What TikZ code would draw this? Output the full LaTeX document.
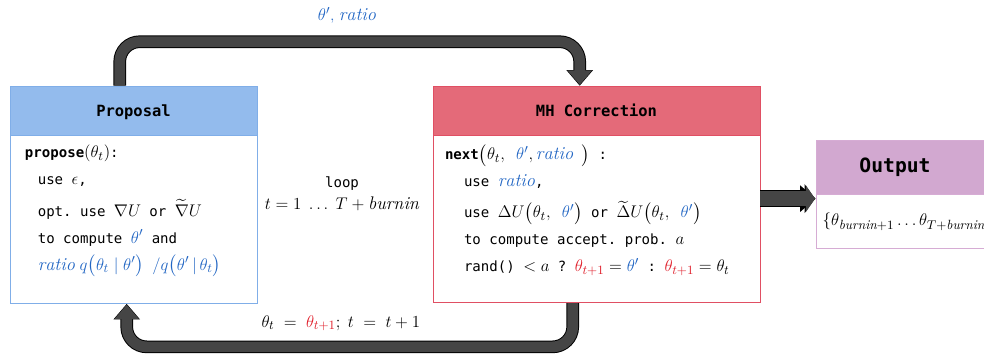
\documentclass[tikz,border=0pt]{standalone}
\usepackage{amsmath}
\usepackage{amssymb}
\usepackage{fontspec}
\setmonofont{DejaVu Sans Mono}
\usepackage{tikz}
\usepackage{xcolor}
\usetikzlibrary{arrows.meta}
\usetikzlibrary{backgrounds}
\usetikzlibrary{positioning}

% math a bit larger than the mono text around it
\DeclareMathSizes{10}{13}{9.5}{7.5}
\DeclareMathSizes{11}{14}{10}{8}

\definecolor{propfill}{HTML}{93BBED}
\definecolor{propline}{HTML}{80AEE8}
\definecolor{mhfill}{HTML}{E46A79}
\definecolor{mhline}{HTML}{E04F63}
\definecolor{outfill}{HTML}{D2A8D0}
\definecolor{outline}{HTML}{D6ACD4}
\definecolor{txtblue}{HTML}{2266C4}
\definecolor{txtred}{HTML}{E0202C}
\definecolor{arrowgray}{HTML}{454545}

\newcommand{\bl}[1]{\textcolor{txtblue}{#1}}
\newcommand{\rd}[1]{\textcolor{txtred}{#1}}

\tikzset{head/.style={draw, minimum height=1.225cm, inner sep=0pt, text depth=0pt,
  font=\ttfamily\bfseries\fontsize{11}{13}\selectfont},
 body/.style={draw, fill=white, inner sep=0pt},
 code/.style={anchor=north west, align=left, inner sep=0pt,
  font=\ttfamily\fontsize{10}{19.2}\selectfont},
 bigarrow/.style={draw=arrowgray, line width=7.6pt, rounded corners=5mm,
  shorten >=0.6pt, -{Triangle[length=3.6mm,width=5.9mm]},
  preaction={draw=black, line width=9pt, shorten >=0pt,
  -{Triangle[length=3.9mm,width=6.4mm]}}},
 }

\begin{document}
\begin{tikzpicture}
    \useasboundingbox (0,0) rectangle (24.6,8.85);

    % the two steps of the sampler
    \node[head, fill=propfill, draw=propline, minimum width=6.175cm] (propHead) at (3.3375,6.0875) {Proposal};
    \node[body, draw=propline, minimum width=6.175cm, minimum height=4.2cm, below=0pt of propHead] (propBody) {};
    \node[head, fill=mhfill, draw=mhline, minimum width=8.175cm] (mhHead) at (14.9125,6.0875) {MH Correction};
    \node[body, draw=mhline, minimum width=8.175cm, minimum height=4.175cm, below=0pt of mhHead] (mhBody) {};

    % output, runs off the right edge
    \node[head, fill=outfill, draw=outline, minimum width=5cm, minimum height=1.35cm] (outHead) at (22.9,4.675) {};
    \node[body, draw=outline, minimum width=5cm, minimum height=1.35cm, below=0pt of outHead] (outBody) {};
    \node[font=\ttfamily\bfseries\fontsize{14}{16}\selectfont] (outTitle) at (22.375,4.675) {Output};
    \node[anchor=west, font=\fontsize{10}{13}\selectfont] (outText) at ([xshift=0.5mm]outBody.west)
        {$\{\theta_{\mathit{burnin}+1} \ldots \theta_{T+\mathit{burnin}}\}$};

    \node[code] (propText) at ([xshift=3.75mm,yshift=-2.4mm]propBody.north west) {%
        \textbf{propose}$(\theta_t)$:\\
        \hspace*{3.2mm}use $\epsilon$,\\[3pt]
        \hspace*{3.2mm}opt. use $\nabla U$ or $\widetilde{\nabla} U$\\
        \hspace*{3.2mm}to compute $\bl{\theta'}$ and\\
        \hspace*{3.2mm}\bl{$\mathit{ratio}\; q\bigl(\theta_t \mid \theta'\bigr)\ /q\bigl(\theta'\,|\, \theta_t\bigr)$}};

    \node[code] (mhText) at ([xshift=3mm,yshift=-2.2mm]mhBody.north west) {%
        \textbf{next}$\bigl(\theta_t,\ \bl{\theta'}, \bl{\mathit{ratio}}\ \bigr)$ :\\
        \hspace*{4.75mm}use $\bl{\mathit{ratio}}$,\\[3pt]
        \hspace*{4.75mm}use $\Delta U\bigl(\theta_t,\ \bl{\theta'}\bigr)$ or $\widetilde{\Delta} U\bigl(\theta_t,\ \bl{\theta'}\bigr)$\\
        \hspace*{4.75mm}to compute accept. prob. $a$\\
        \hspace*{4.75mm}rand() $<a$ ? $\rd{\theta_{t+1}} = \bl{\theta'}$\ :\ $\rd{\theta_{t+1}} = \theta_t$};

    \node[align=center, font=\fontsize{10}{16}\selectfont] (loopLbl) at (8.55,4.01)
        {\texttt{loop}\\ $t = 1\ \ldots\ T+\mathit{burnin}$};
    \node[font=\fontsize{10}{12}\selectfont] (topLbl) at (8.675,8.47) {\bl{$\theta'$, $\mathit{ratio}$}};
    \node[font=\fontsize{10}{12}\selectfont] (botLbl) at (8.52,0.775)
        {$\theta_t\ =\ \rd{\theta_{t+1}};\ t\ =\ t+1$};

    % connectors
    \coordinate (propOut) at ([xshift=2.75cm]propHead.north west);
    \coordinate (mhIn) at ([xshift=3.675cm]mhHead.north west);
    \coordinate (mhOut) at ([xshift=3.5cm]mhBody.south west);
    \coordinate (propIn) at ([xshift=2.925cm]propBody.south west);
    \coordinate (mhExit) at ([yshift=5.1mm]mhBody.east);
    \begin{scope}[on background layer]
        \draw[bigarrow] (propOut) -- ++(0,1.1) -| (mhIn);
        \draw[bigarrow] (mhOut) -- ++(0,-1.1) -| (propIn);
    \end{scope}
    \draw[bigarrow, line width=10.5pt, shorten >=0.5pt, -{Triangle[length=2.3mm,width=6.6mm]},
        preaction={draw=black, line width=12pt, -{Triangle[length=2.6mm,width=7.1mm]}}]
        (mhExit) -- (outBody.west |- mhExit);
\end{tikzpicture}
\end{document}
